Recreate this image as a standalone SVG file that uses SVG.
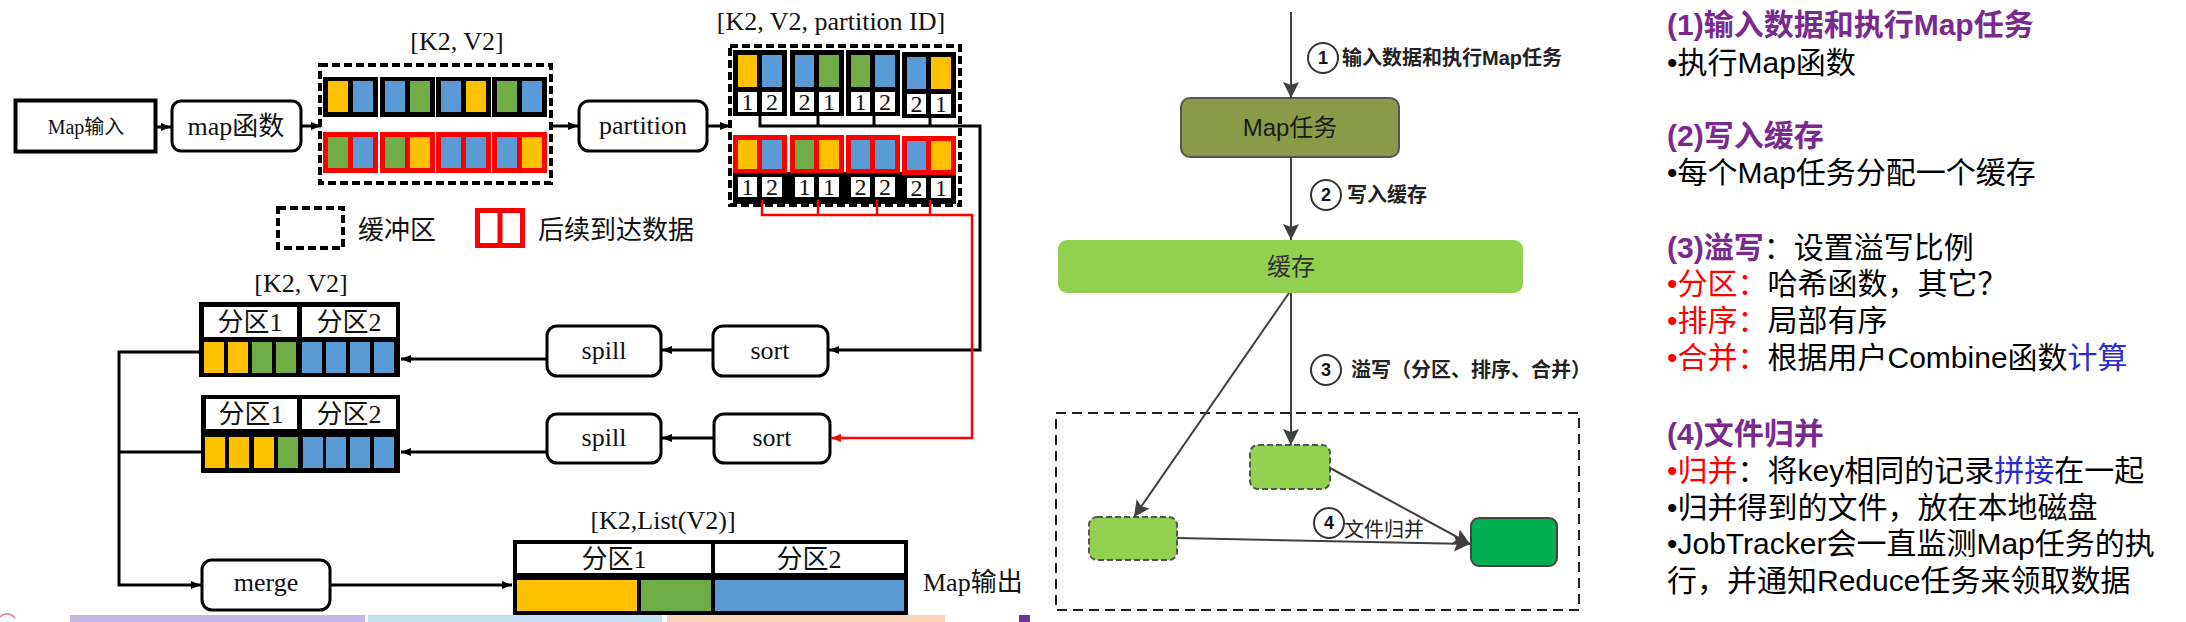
<svg xmlns="http://www.w3.org/2000/svg" width="2186" height="622" viewBox="0 0 2186 622">
<style>
.sf{font-family:"Liberation Serif","Noto Sans CJK SC",serif;fill:#111;font-size:26px}
.ss{font-family:"Liberation Sans","Noto Sans CJK SC",sans-serif}
.box{fill:#fff;stroke:#000;stroke-width:3}
.ln{fill:none;stroke:#000;stroke-width:3}
.rl{fill:none;stroke:#f00;stroke-width:2.5}
.Y{fill:#ffc000}.B{fill:#5b9bd5}.G{fill:#70ad47}.W{fill:#fff}
.dash{fill:none;stroke:#000;stroke-width:4;stroke-dasharray:8 4}
.num{font-family:"Liberation Serif",serif;font-size:24px;fill:#111;text-anchor:middle}
.mid{text-anchor:middle}
.ml{fill:none;stroke:#404040;stroke-width:2}
.circ{fill:#fff;stroke:#333;stroke-width:2}
.cn{font-family:"Liberation Sans",sans-serif;font-size:18px;font-weight:bold;fill:#111;text-anchor:middle}
.lab{font-family:"Liberation Sans","Noto Sans CJK SC",sans-serif;font-size:20px;fill:#222}
.rt{font-family:"Liberation Sans","Noto Sans CJK SC",sans-serif;font-size:30px;fill:#000}
.pu{fill:#7a2a8f;font-weight:bold}
.rd{fill:#f00}
.bl{fill:#2b2bcc}
</style>
<defs>
<marker id="a" viewBox="0 0 10 10" refX="10" refY="5" markerWidth="10" markerHeight="10" markerUnits="userSpaceOnUse" orient="auto"><path d="M0,1 L10,5 L0,9 z" fill="#000"/></marker>
<marker id="ar" viewBox="0 0 10 10" refX="10" refY="5" markerWidth="10" markerHeight="10" markerUnits="userSpaceOnUse" orient="auto"><path d="M0,1 L10,5 L0,9 z" fill="#f00"/></marker>
<marker id="am" viewBox="0 0 16 16" refX="16" refY="8" markerWidth="16" markerHeight="16" markerUnits="userSpaceOnUse" orient="auto"><path d="M0,0 L16,8 L0,16 L3,8 z" fill="#404040"/></marker>
</defs>

<!-- ===== Left diagram ===== -->
<g id="map-input"><rect x="15.5" y="100.5" width="140" height="51" fill="#fff" stroke="#000" stroke-width="4"/><text class="sf" x="86" y="134" text-anchor="middle" style="font-size:20px">Map输入</text></g>
<g id="map-func"><rect class="box" x="172" y="101" width="129" height="50" rx="9"/><text class="sf mid" x="236" y="135">map函数</text></g>

<g id="buffer1">
<text class="sf mid" x="457" y="50">[K2, V2]</text>
<rect class="dash" x="320" y="65" width="231" height="118"/>
<rect x="323" y="77" width="55" height="40" fill="#000"/><rect class="Y" x="328" y="81" width="20" height="31"/><rect class="B" x="353" y="81" width="20" height="31"/>
<rect x="380" y="77" width="55" height="40" fill="#000"/><rect class="B" x="385" y="81" width="20" height="31"/><rect class="G" x="410" y="81" width="20" height="31"/>
<rect x="436" y="77" width="55" height="40" fill="#000"/><rect class="B" x="441" y="81" width="20" height="31"/><rect class="Y" x="466" y="81" width="20" height="31"/>
<rect x="492" y="77" width="55" height="40" fill="#000"/><rect class="G" x="497" y="81" width="20" height="31"/><rect class="B" x="522" y="81" width="20" height="31"/>
<rect x="323" y="132" width="55" height="41" fill="#f00"/><rect class="G" x="328" y="137" width="20" height="31"/><rect class="B" x="353" y="137" width="20" height="31"/>
<rect x="380" y="132" width="55" height="41" fill="#f00"/><rect class="G" x="385" y="137" width="20" height="31"/><rect class="Y" x="410" y="137" width="20" height="31"/>
<rect x="436" y="132" width="55" height="41" fill="#f00"/><rect class="B" x="441" y="137" width="20" height="31"/><rect class="B" x="466" y="137" width="20" height="31"/>
<rect x="492" y="132" width="55" height="41" fill="#f00"/><rect class="B" x="497" y="137" width="20" height="31"/><rect class="Y" x="522" y="137" width="20" height="31"/>
</g>

<g id="legend">
<rect class="dash" x="278" y="208" width="65" height="40"/>
<text class="sf" x="358" y="239">缓冲区</text>
<rect x="477.5" y="210.5" width="45" height="35" fill="none" stroke="#f00" stroke-width="5"/>
<line x1="500" y1="210" x2="500" y2="246" stroke="#f00" stroke-width="5"/>
<text class="sf" x="538" y="239">后续到达数据</text>
</g>

<g id="partition"><rect class="box" x="579" y="101" width="128" height="50" rx="10"/><text class="sf mid" x="643" y="134">partition</text></g>

<g id="buffer2">
<text class="sf mid" x="831" y="30">[K2, V2, partition ID]</text>
<rect class="dash" x="730" y="46" width="230" height="159"/>
<rect x="733" y="50" width="54" height="66" fill="#000"/><rect class="Y" x="738" y="55" width="19" height="32"/><rect class="B" x="762" y="55" width="20" height="32"/><rect class="W" x="738" y="92" width="19" height="20"/><rect class="W" x="762" y="92" width="20" height="20"/>
<rect x="790" y="50" width="54" height="66" fill="#000"/><rect class="B" x="795" y="55" width="19" height="32"/><rect class="G" x="819" y="55" width="20" height="32"/><rect class="W" x="795" y="92" width="19" height="20"/><rect class="W" x="819" y="92" width="20" height="20"/>
<rect x="846" y="50" width="54" height="66" fill="#000"/><rect class="G" x="851" y="55" width="19" height="32"/><rect class="B" x="875" y="55" width="20" height="32"/><rect class="W" x="851" y="92" width="19" height="20"/><rect class="W" x="875" y="92" width="20" height="20"/>
<rect x="902" y="52" width="54" height="66" fill="#000"/><rect class="B" x="907" y="57" width="19" height="32"/><rect class="Y" x="931" y="57" width="20" height="32"/><rect class="W" x="907" y="94" width="19" height="20"/><rect class="W" x="931" y="94" width="20" height="20"/>
<text class="num" x="747.5" y="110">1</text><text class="num" x="772" y="110">2</text>
<text class="num" x="804.5" y="110">2</text><text class="num" x="829" y="110">1</text>
<text class="num" x="860.5" y="110">1</text><text class="num" x="885" y="110">2</text>
<text class="num" x="916.5" y="112">2</text><text class="num" x="941" y="112">1</text>
<rect x="733" y="172" width="223" height="32" fill="#000"/>
<rect x="733" y="135" width="54" height="38" fill="#f00"/><rect class="Y" x="738" y="140" width="19" height="29"/><rect class="B" x="762" y="140" width="20" height="29"/>
<rect x="790" y="135" width="54" height="38" fill="#f00"/><rect class="G" x="795" y="140" width="19" height="29"/><rect class="Y" x="819" y="140" width="20" height="29"/>
<rect x="846" y="135" width="54" height="38" fill="#f00"/><rect class="B" x="851" y="140" width="19" height="29"/><rect class="B" x="875" y="140" width="20" height="29"/>
<rect x="902" y="136" width="54" height="39" fill="#f00"/><rect class="B" x="907" y="141" width="19" height="29"/><rect class="Y" x="931" y="141" width="20" height="29"/>
<rect class="W" x="738" y="177" width="19" height="20"/><rect class="W" x="762" y="177" width="20" height="20"/>
<rect class="W" x="795" y="177" width="19" height="20"/><rect class="W" x="819" y="177" width="20" height="20"/>
<rect class="W" x="851" y="177" width="19" height="20"/><rect class="W" x="875" y="177" width="20" height="20"/>
<rect class="W" x="907" y="178" width="19" height="20"/><rect class="W" x="931" y="178" width="20" height="20"/>
<text class="num" x="747.5" y="195">1</text><text class="num" x="772" y="195">2</text>
<text class="num" x="804.5" y="195">1</text><text class="num" x="829" y="195">1</text>
<text class="num" x="860.5" y="195">2</text><text class="num" x="885" y="195">2</text>
<text class="num" x="916.5" y="196">2</text><text class="num" x="941" y="196">1</text>
</g>

<g id="sort1"><rect class="box" x="713" y="326" width="115" height="50" rx="10"/><text class="sf mid" x="770" y="359">sort</text></g>
<g id="spill1"><rect class="box" x="547" y="326" width="114" height="50" rx="10"/><text class="sf mid" x="604" y="359">spill</text></g>
<g id="sort2"><rect class="box" x="714" y="414" width="116" height="49" rx="10"/><text class="sf mid" x="772" y="446">sort</text></g>
<g id="spill2"><rect class="box" x="547" y="414" width="114" height="49" rx="10"/><text class="sf mid" x="604" y="446">spill</text></g>

<g id="spillfile1">
<text class="sf mid" x="301" y="292">[K2, V2]</text>
<rect x="199" y="302" width="201" height="75" fill="#000"/>
<rect class="W" x="204" y="307" width="93" height="30"/><rect class="W" x="302" y="307" width="94" height="30"/>
<text class="sf mid" x="250" y="331">分区1</text><text class="sf mid" x="349" y="331">分区2</text>
<rect class="Y" x="204" y="342" width="20" height="31"/><rect class="Y" x="228" y="342" width="20" height="31"/><rect class="G" x="252" y="342" width="20" height="31"/><rect class="G" x="276" y="342" width="20" height="31"/>
<rect class="B" x="302" y="342" width="20" height="31"/><rect class="B" x="326" y="342" width="20" height="31"/><rect class="B" x="350" y="342" width="20" height="31"/><rect class="B" x="374" y="342" width="20" height="31"/>
</g>
<g id="spillfile2">
<rect x="201" y="395" width="199" height="78" fill="#000"/>
<rect class="W" x="206" y="399" width="91" height="30"/><rect class="W" x="302" y="399" width="94" height="30"/>
<text class="sf mid" x="251" y="423">分区1</text><text class="sf mid" x="349" y="423">分区2</text>
<rect class="Y" x="205" y="437" width="20" height="31"/><rect class="Y" x="229" y="437" width="20" height="31"/><rect class="Y" x="254" y="437" width="20" height="31"/><rect class="G" x="278" y="437" width="20" height="31"/>
<rect class="B" x="303" y="437" width="20" height="31"/><rect class="B" x="326" y="437" width="20" height="31"/><rect class="B" x="350" y="437" width="20" height="31"/><rect class="B" x="374" y="437" width="20" height="31"/>
</g>

<g id="merge"><rect class="box" x="202" y="560" width="128" height="50" rx="10"/><text class="sf mid" x="266" y="591">merge</text></g>

<g id="map-output">
<text class="sf mid" x="663" y="529">[K2,List(V2)]</text>
<rect x="513" y="540" width="395" height="75" fill="#000"/>
<rect class="W" x="517" y="544" width="194" height="29"/><rect class="W" x="715" y="544" width="189" height="29"/>
<text class="sf mid" x="614" y="568">分区1</text><text class="sf mid" x="809" y="568">分区2</text>
<rect class="Y" x="517" y="580" width="120" height="31"/><rect class="G" x="641" y="580" width="70" height="31"/><rect class="B" x="715" y="580" width="189" height="31"/>
<text class="sf" x="923" y="591">Map输出</text>
</g>

<g id="connectors-left">
<path class="ln" d="M157,127 H171" marker-end="url(#a)"/>
<path class="ln" d="M302,126 H321" marker-end="url(#a)"/>
<path class="ln" d="M551,126 H578" marker-end="url(#a)"/>
<path class="ln" d="M708,126 H730" marker-end="url(#a)"/>
<path class="ln" d="M760,116 V126 H980 V350 H829" marker-end="url(#a)"/>
<path class="ln" d="M818,116 V126 M874,116 V126 M930,118 V126"/>
<path class="rl" d="M762,200 V215 H972 V438 H831" marker-end="url(#ar)"/>
<path class="rl" d="M818,200 V215 M877,200 V215 M930,200 V215"/>
<path class="ln" d="M712,350 H662" marker-end="url(#a)"/>
<path class="ln" d="M713,438 H662" marker-end="url(#a)"/>
<path class="ln" d="M546,359 H401" marker-end="url(#a)"/>
<path class="ln" d="M546,452 H401" marker-end="url(#a)"/>
<path class="ln" d="M199,352 H119 V585 H201" marker-end="url(#a)"/>
<path class="ln" d="M201,452 H119"/>
<path class="ln" d="M331,585 H512" marker-end="url(#a)"/>
</g>

<!-- ===== Middle diagram ===== -->
<rect x="1056" y="413" width="523" height="197" fill="none" stroke="#222" stroke-width="2" stroke-dasharray="10 6"/>
<g id="map-task"><rect x="1181" y="98" width="218" height="59" rx="9" fill="#8a9a47" stroke="#555" stroke-width="2"/><text class="ss mid" x="1290" y="136" style="font-size:24px;fill:#1a1a1a">Map任务</text></g>
<g id="cache"><rect x="1058" y="240" width="465" height="53" rx="9" fill="#92d050"/><text class="ss mid" x="1291" y="275" style="font-size:24px;fill:#333">缓存</text></g>
<g id="spill-a"><rect x="1250" y="445" width="80" height="44" rx="8" fill="#92d050" stroke="#555" stroke-width="2" stroke-dasharray="6 3"/></g>
<g id="spill-b"><rect x="1089" y="517" width="88" height="43" rx="8" fill="#92d050" stroke="#555" stroke-width="2" stroke-dasharray="6 3"/></g>
<g id="merged"><rect x="1471" y="518" width="86" height="48" rx="8" fill="#00b050" stroke="#444" stroke-width="2"/></g>

<g id="connectors-mid">
<path class="ml" d="M1291,12 V98" marker-end="url(#am)"/>
<path class="ml" d="M1291,157 V240" marker-end="url(#am)"/>
<path class="ml" d="M1291,293 V445" marker-end="url(#am)"/>
<path class="ml" d="M1289,293 L1134,517" marker-end="url(#am)"/>
<path class="ml" d="M1330,468 L1470,544" marker-end="url(#am)"/>
<path class="ml" d="M1177,538 L1470,544" marker-end="url(#am)"/>
</g>

<g id="step-labels">
<circle class="circ" cx="1323" cy="58" r="15"/><text class="cn" x="1323" y="64">1</text>
<text class="lab" x="1342" y="65" font-weight="bold">输入数据和执行Map任务</text>
<circle class="circ" cx="1326" cy="195" r="15"/><text class="cn" x="1326" y="201">2</text>
<text class="lab" x="1347" y="202" font-weight="bold">写入缓存</text>
<circle class="circ" cx="1326" cy="370" r="15"/><text class="cn" x="1326" y="376">3</text>
<text class="lab" x="1351" y="377" font-weight="bold">溢写（分区、排序、合并）</text>
<circle class="circ" cx="1329" cy="523" r="15"/><text class="cn" x="1329" y="529">4</text>
<text class="lab" x="1344" y="537">文件归并</text>
</g>

<!-- ===== Right text ===== -->
<g id="notes" class="rt">
<text x="1667" y="35" class="pu">(1)输入数据和执行Map任务</text>
<text x="1667" y="73">•执行Map函数</text>
<text x="1667" y="146" class="pu">(2)写入缓存</text>
<text x="1667" y="183">•每个Map任务分配一个缓存</text>
<text x="1667" y="258"><tspan class="pu">(3)溢写</tspan>：设置溢写比例</text>
<text x="1667" y="294"><tspan class="rd">•分区：</tspan>哈希函数，其它？</text>
<text x="1667" y="331"><tspan class="rd">•排序：</tspan>局部有序</text>
<text x="1667" y="368"><tspan class="rd">•合并：</tspan>根据用户Combine函数<tspan class="bl">计算</tspan></text>
<text x="1667" y="444" class="pu">(4)文件归并</text>
<text x="1667" y="481"><tspan class="rd">•归并</tspan>：将key相同的记录<tspan class="bl">拼接</tspan>在一起</text>
<text x="1667" y="518">•归并得到的文件，放在本地磁盘</text>
<text x="1667" y="554">•JobTracker会一直监测Map任务的执</text>
<text x="1667" y="591">行，并通知Reduce任务来领取数据</text>
</g>

<!-- bottom slide remnants -->
<rect x="70" y="615" width="295" height="7" fill="#c5b8e0"/>
<rect x="368" y="615" width="294" height="7" fill="#c5dff2"/>
<rect x="667" y="615" width="278" height="7" fill="#fbd3b8"/>
<rect x="1019" y="615" width="11" height="7" fill="#7030a0"/>
<path d="M0,617 Q7,610 15,618" fill="none" stroke="#e07a90" stroke-width="1.5"/>
</svg>
